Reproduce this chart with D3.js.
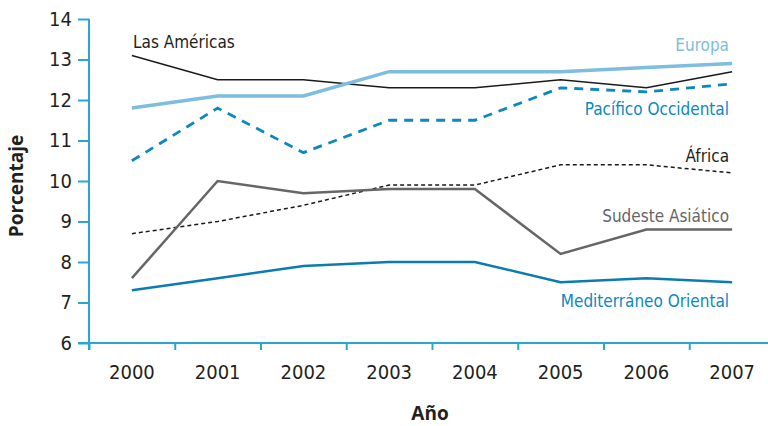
<!DOCTYPE html>
<html>
<head>
<meta charset="utf-8">
<script src="https://cdn.jsdelivr.net/npm/d3@7"></script>
<style>
  body { margin: 0; background: #fff; }
  svg text { font-family: "DejaVu Sans Condensed", "DejaVu Sans", sans-serif; font-stretch: condensed; fill: #231f20; }
  .axis path, .axis line { stroke: #2ba6d4; stroke-width: 2; }
  .axis text { font-size: 20px; }
  .title { font-family: "Open Sans", "DejaVu Sans", sans-serif !important; font-stretch: normal !important; font-weight: bold; font-size: 19px; }
</style>
</head>
<body>
<div id="chart"></div>
<script>
// data
var years = ["2000", "2001", "2002", "2003", "2004", "2005", "2006", "2007"];
var yTicks = [6, 7, 8, 9, 10, 11, 12, 13, 14];

var americas  = [13.1, 12.5, 12.5, 12.3, 12.3, 12.5, 12.3, 12.7];
var europa    = [11.8, 12.1, 12.1, 12.7, 12.7, 12.7, 12.8, 12.9];
var pacifico  = [10.5, 11.8, 10.7, 11.5, 11.5, 12.3, 12.2, 12.4];
var africa    = [8.7, 9.0, 9.4, 9.9, 9.9, 10.4, 10.4, 10.2];
var sudeste   = [7.6, 10.0, 9.7, 9.8, 9.8, 8.2, 8.8, 8.8];
var mediterr  = [7.3, 7.6, 7.9, 8.0, 8.0, 7.5, 7.6, 7.5];

var W = 768, H = 426;
var plotLeft = 89, plotRight = 775, plotTop = 19, plotBottom = 343;

var svg = d3.select("#chart").append("svg")
    .attr("width", W)
    .attr("height", H);

var x = d3.scaleBand()
    .domain(years)
    .range([plotLeft, plotRight]);

// band edges for the tick marks
var xEdge = d3.scaleLinear()
    .domain([0, years.length])
    .range([plotLeft, plotRight]);

var y = d3.scaleLinear()
    .domain([6, 14])
    .range([plotBottom, plotTop]);

// Axes
svg.append("g")
    .attr("class", "axis")
    .attr("transform", "translate(0," + plotBottom + ")")
    .call(d3.axisBottom(xEdge).tickValues(d3.range(0, years.length + 1)).tickSize(7).tickSizeOuter(0).tickFormat(""))
    .call(g => g.select(".domain").attr("d", "M78,0H" + plotRight));

svg.append("g")
    .attr("class", "axis")
    .attr("transform", "translate(0," + plotBottom + ")")
    .call(d3.axisBottom(x).tickSize(0).tickPadding(22))
    .call(g => g.select(".domain").remove());

svg.append("g")
    .attr("class", "axis")
    .attr("transform", "translate(" + plotLeft + ",0)")
    .call(d3.axisLeft(y).tickValues(yTicks).tickSize(11).tickSizeOuter(0).tickPadding(6))
    .call(g => g.select(".domain").attr("d", "M0," + plotTop + "V" + (plotBottom + 7)));

svg.append("text")
    .attr("class", "title")
    .attr("x", 430)
    .attr("y", 420)
    .attr("text-anchor", "middle")
    .text("Año");

svg.append("text")
    .attr("class", "title")
    .attr("transform", "translate(23,186) rotate(-90)")
    .attr("text-anchor", "middle")
    .text("Porcentaje");

// Lines
var line = d3.line()
    .x(function(d, i) { return x(years[i]) + x.bandwidth() / 2; })
    .y(function(d) { return y(d); });

var series = [
    { name: "Las Américas", values: americas, color: "#1a1a1a", width: 1.5, dash: null },
    { name: "Europa", values: europa, color: "#7cbde0", width: 3.5, dash: null },
    { name: "Pacífico Occidental", values: pacifico, color: "#0b88bf", width: 2.8, dash: "9,7" },
    { name: "África", values: africa, color: "#1a1a1a", width: 1.5, dash: "4,3" },
    { name: "Sudeste Asiático", values: sudeste, color: "#666666", width: 2.5, dash: null },
    { name: "Mediterráneo Oriental", values: mediterr, color: "#0a7cb2", width: 2.5, dash: null }
];

svg.selectAll("path.line")
    .data(series)
  .enter().append("path")
    .attr("class", "line")
    .attr("fill", "none")
    .attr("stroke", d => d.color)
    .attr("stroke-width", d => d.width)
    .attr("stroke-dasharray", d => d.dash)
    .attr("d", d => line(d.values));

// Labels
var labels = [
    { text: "Las Américas", x: 133, y: 48, anchor: "start", color: "#231f20" },
    { text: "Europa", x: 729, y: 51, anchor: "end", color: "#7cbde0" },
    { text: "Pacífico Occidental", x: 729, y: 115, anchor: "end", color: "#0b88bf" },
    { text: "África", x: 729, y: 162, anchor: "end", color: "#231f20" },
    { text: "Sudeste Asiático", x: 729, y: 222, anchor: "end", color: "#666666" },
    { text: "Mediterráneo Oriental", x: 729, y: 307, anchor: "end", color: "#0b88bf" }
];

svg.selectAll("text.label")
    .data(labels)
  .enter().append("text")
    .attr("class", "label")
    .attr("x", d => d.x)
    .attr("y", d => d.y)
    .attr("text-anchor", d => d.anchor)
    .style("fill", d => d.color)
    .style("font-size", "17px")
    .text(d => d.text);
</script>
</body>
</html>
